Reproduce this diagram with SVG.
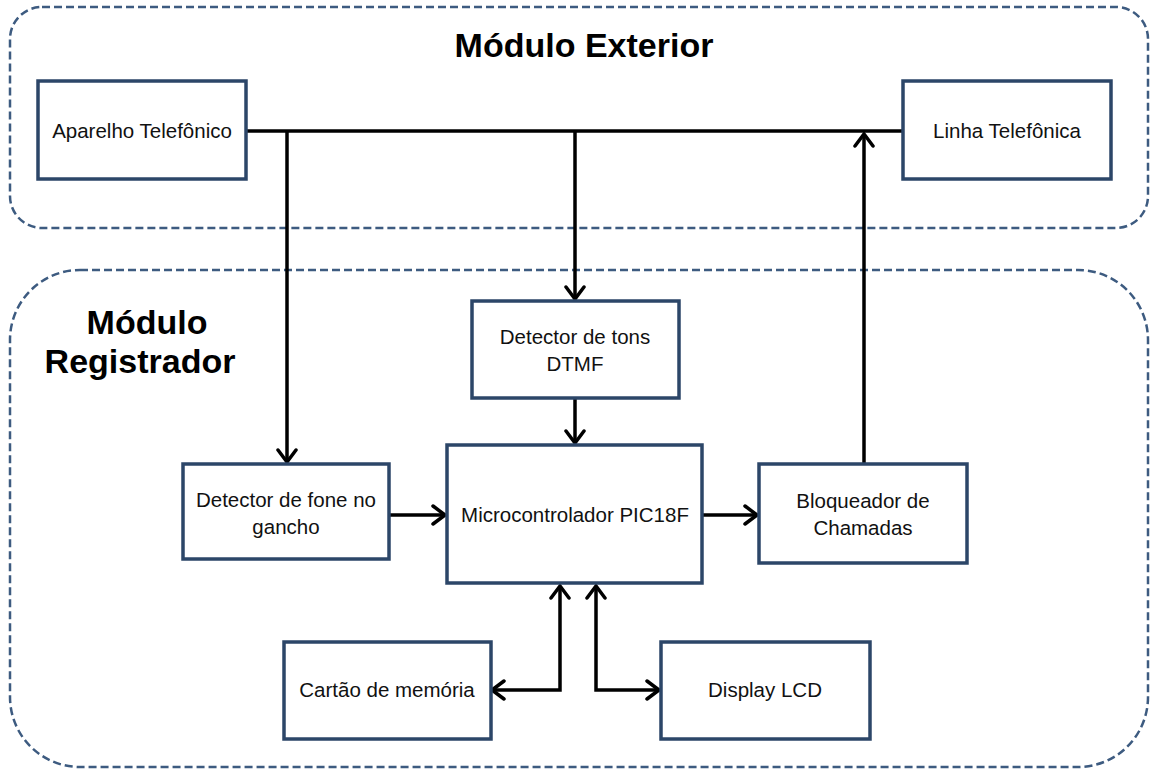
<svg xmlns="http://www.w3.org/2000/svg" width="1150" height="769" viewBox="0 0 1150 769">
<style>
.cont{fill:none;stroke:#3d5b80;stroke-width:2.5;stroke-dasharray:8 4}
.box{fill:#fff;stroke:#2c4668;stroke-width:3.5}
.t{font-family:"Liberation Sans",Arial,sans-serif;font-size:20.5px;fill:#111;text-anchor:middle}
.h{font-family:"Liberation Sans",Arial,sans-serif;font-size:34px;font-weight:bold;fill:#000;text-anchor:middle}
.c{fill:none;stroke:#000;stroke-width:3.5}
</style>
<defs>
<marker id="ah" viewBox="0 0 16 22" refX="14" refY="11" markerWidth="16" markerHeight="22" markerUnits="userSpaceOnUse" orient="auto-start-reverse">
<path d="M2,2 L14,11 L2,20" fill="none" stroke="#000" stroke-width="3.5" stroke-linecap="round"/>
</marker>
</defs>
<g id="modulo-exterior">
<rect class="cont" x="10" y="7" width="1138" height="221" rx="32"/>
<text class="h" x="584" y="57">Módulo Exterior</text>
</g>
<g id="modulo-registrador">
<rect class="cont" x="10" y="270" width="1138" height="497" rx="70"/>
<text class="h" x="147" y="334">Módulo</text>
<text class="h" x="140" y="373">Registrador</text>
</g>
<g id="connectors">
<path class="c" d="M246,131 H903"/>
<path class="c" d="M287,131 V462" marker-end="url(#ah)"/>
<path class="c" d="M575,131 V299" marker-end="url(#ah)"/>
<path class="c" d="M575,399 V443" marker-end="url(#ah)"/>
<path class="c" d="M389,515 H445" marker-end="url(#ah)"/>
<path class="c" d="M702,515 H757" marker-end="url(#ah)"/>
<path class="c" d="M864,464 V134" marker-end="url(#ah)"/>
<path class="c" d="M560,586 V690 H492" marker-start="url(#ah)" marker-end="url(#ah)"/>
<path class="c" d="M596,586 V690 H659" marker-start="url(#ah)" marker-end="url(#ah)"/>
</g>
<g id="aparelho">
<rect class="box" x="38" y="81" width="208" height="98"/>
<text class="t" x="142" y="138">Aparelho Telefônico</text>
</g>
<g id="linha">
<rect class="box" x="903" y="81" width="208" height="98"/>
<text class="t" x="1007" y="138">Linha Telefônica</text>
</g>
<g id="detector-tons">
<rect class="box" x="472" y="301" width="207" height="97"/>
<text class="t" x="575" y="344">Detector de tons</text>
<text class="t" x="575" y="371">DTMF</text>
</g>
<g id="detector-fone">
<rect class="box" x="183" y="464" width="206" height="95"/>
<text class="t" x="286" y="507">Detector de fone no</text>
<text class="t" x="286" y="534">gancho</text>
</g>
<g id="micro">
<rect class="box" x="447" y="445" width="255" height="138"/>
<text class="t" x="575" y="522">Microcontrolador PIC18F</text>
</g>
<g id="bloqueador">
<rect class="box" x="759" y="464" width="208" height="99"/>
<text class="t" x="863" y="508">Bloqueador de</text>
<text class="t" x="863" y="535">Chamadas</text>
</g>
<g id="cartao">
<rect class="box" x="284" y="642" width="207" height="97"/>
<text class="t" x="387" y="697">Cartão de memória</text>
</g>
<g id="display">
<rect class="box" x="661" y="642" width="209" height="97"/>
<text class="t" x="765" y="697">Display LCD</text>
</g>
</svg>
